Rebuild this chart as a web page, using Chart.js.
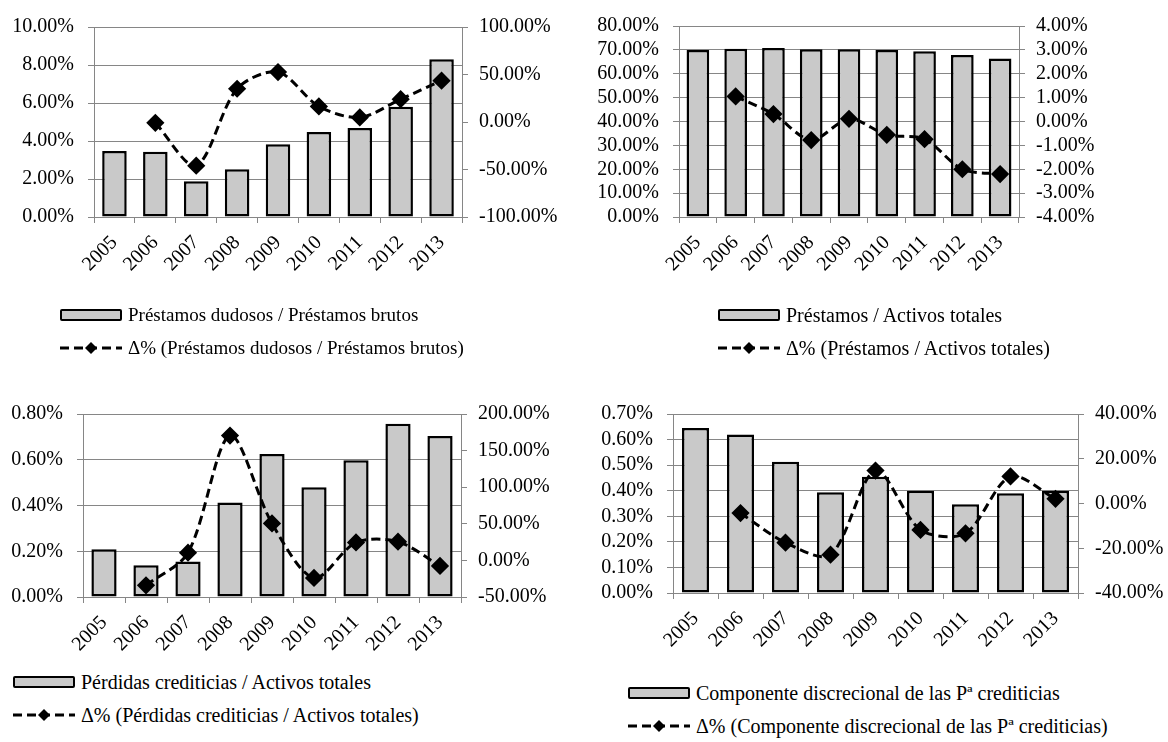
<!DOCTYPE html>
<html>
<head>
<meta charset="utf-8">
<script src="https://cdn.jsdelivr.net/npm/chart.js@4.4.1/dist/chart.umd.min.js"></script>
<style>
  body { margin:0; background:#fff; width:1168px; height:742px; position:relative; overflow:hidden;
         font-family:'Liberation Serif','Times New Roman',serif; }
  canvas { position:absolute; }
  .legend { position:absolute; font-size:20px; color:#000; line-height:20px; }
  .legend .item { display:flex; align-items:center; height:20px; margin-bottom:13px; white-space:nowrap; }
  .legend .sw { display:inline-block; box-sizing:border-box; width:62px; height:12px; margin-right:6px;
                background:#c9c9c9; border:2.5px solid #000; border-radius:2px; }
  .legend svg { margin-right:6px; }
</style>
</head>
<body>
<canvas id="c1" width="580" height="300" style="left:0;top:0"></canvas>
<canvas id="c2" width="588" height="300" style="left:580px;top:0"></canvas>
<canvas id="c3" width="580" height="300" style="left:0;top:370px"></canvas>
<canvas id="c4" width="588" height="300" style="left:580px;top:370px"></canvas>

<div class="legend" id="l1" style="left:60px;top:305px;font-size:19px"></div>
<div class="legend" id="l2" style="left:718px;top:305px"></div>
<div class="legend" id="l3" style="left:13px;top:672px"></div>
<div class="legend" id="l4" style="left:628px;top:683px"></div>

<script>
const years = ['2005','2006','2007','2008','2009','2010','2011','2012','2013'];

// ratios (%) -> bars, left axis
const dudososRatio      = [3.47, 3.44, 1.88, 2.51, 3.83, 4.47, 4.68, 5.80, 8.30];
const prestamosRatio    = [69.9, 70.5, 70.8, 70.3, 70.3, 69.9, 69.4, 67.9, 66.4];
const perdidasRatio     = [0.209, 0.139, 0.155, 0.413, 0.625, 0.480, 0.598, 0.757, 0.704];
const discrecionalRatio = [0.645, 0.620, 0.513, 0.394, 0.455, 0.400, 0.347, 0.390, 0.400];

// yearly change (%) -> dashed line, right axis
const dudososDelta      = [null, -0.9, -46.0, 35.0, 52.6, 16.4, 4.8, 24.0, 43.5];
const prestamosDelta    = [null, 1.05, 0.31, -0.78, 0.11, -0.56, -0.74, -2.00, -2.20];
const perdidasDelta     = [null, -34.0, 10.5, 170.5, 50.5, -24.0, 24.5, 25.5, -7.5];
const discrecionalDelta = [null, -4.3, -17.5, -22.9, 14.7, -11.8, -13.3, 12.1, 2.1];

const GRID = '#868686';
Chart.defaults.font.family = "'Liberation Serif','Times New Roman',serif";
Chart.defaults.font.size = 20;
Chart.defaults.color = '#000';

function pct(v){ return v.toFixed(2) + '%'; }

// every tick from min to max, so Chart.js doesn't thin them out
function fixedTicks(min, max, step){
  return s => {
    const t = [];
    const n = Math.round((max - min) / step);
    for (let i = 0; i <= n; i++) t.push({ value: +(min + i * step).toFixed(6) });
    s.ticks = t;
  };
}

// box: chart area inside the canvas {left, right, top, bottom}
function makeChart(id, bars, line, left, right, box, canvasW, canvasH){
  const ctx = document.getElementById(id).getContext('2d');
  return new Chart(ctx, {
    data: {
      labels: years,
      datasets: [
        { type:'line', data: line, yAxisID:'y1', order:0,
          borderColor:'#000', borderWidth:3, borderDash:[9,5], tension:0.3,
          pointStyle:'rectRot', pointRadius:7, pointBackgroundColor:'#000', pointBorderColor:'#000' },
        { type:'bar', data: bars, yAxisID:'y', order:1,
          backgroundColor:'#c9c9c9', borderColor:'#000', borderWidth:2.5, borderSkipped:false,
          categoryPercentage:1, barPercentage:0.6 }
      ]
    },
    options: {
      responsive:false, animation:false,
      layout: { padding: { top: box.top, left:0, right:0, bottom:0 } },
      plugins: { legend:{ display:false }, tooltip:{ enabled:false } },
      scales: {
        x: {
          grid: { offset:true, drawOnChartArea:false, color:GRID, tickLength:6 },
          border: { color:GRID },
          ticks: { maxRotation:45, minRotation:45, padding:8, autoSkip:false },
          afterFit: s => { s.height = canvasH - box.bottom; }
        },
        y: {
          position:'left', min:left.min, max:left.max,
          grid: { color:GRID, tickLength:6 },
          border: { color:GRID },
          ticks: { padding:14, autoSkip:false, callback: v => pct(v) },
          afterBuildTicks: fixedTicks(left.min, left.max, left.step),
          afterFit: s => { s.width = box.left; }
        },
        y1: {
          position:'right', min:right.min, max:right.max,
          grid: { drawOnChartArea:false, color:GRID, tickLength:6 },
          border: { color:GRID },
          ticks: { padding:11, autoSkip:false, callback: v => pct(v) },
          afterBuildTicks: fixedTicks(right.min, right.max, right.step),
          afterFit: s => { s.width = canvasW - box.right; }
        }
      }
    }
  });
}

makeChart('c1', dudososRatio, dudososDelta,
  {min:0, max:10, step:2}, {min:-100, max:100, step:50},
  {left:94, right:462, top:27, bottom:217}, 580, 300);
makeChart('c2', prestamosRatio, prestamosDelta,
  {min:0, max:80, step:10}, {min:-4, max:4, step:1},
  {left:99, right:439, top:26, bottom:217}, 588, 300);
makeChart('c3', perdidasRatio, perdidasDelta,
  {min:0, max:0.8, step:0.2}, {min:-50, max:200, step:50},
  {left:83, right:461, top:44, bottom:227}, 580, 300);
makeChart('c4', discrecionalRatio, discrecionalDelta,
  {min:0, max:0.7, step:0.1}, {min:-40, max:40, step:20},
  {left:93, right:498, top:44, bottom:223}, 588, 300);

const lineIcon = '<svg width="62" height="14"><line x1="0" y1="7" x2="62" y2="7" stroke="#000" stroke-width="3" stroke-dasharray="9,5"/>' +
                 '<polygon points="31,1 37,7 31,13 25,7" fill="#000"/></svg>';
function legend(id, barLabel){
  document.getElementById(id).innerHTML =
    '<div class="item"><span class="sw"></span>' + barLabel + '</div>' +
    '<div class="item">' + lineIcon + 'Δ% (' + barLabel + ')</div>';
}
legend('l1', 'Préstamos dudosos / Préstamos brutos');
legend('l2', 'Préstamos / Activos totales');
legend('l3', 'Pérdidas crediticias / Activos totales');
legend('l4', 'Componente discrecional de las Pª crediticias');
</script>
</body>
</html>
